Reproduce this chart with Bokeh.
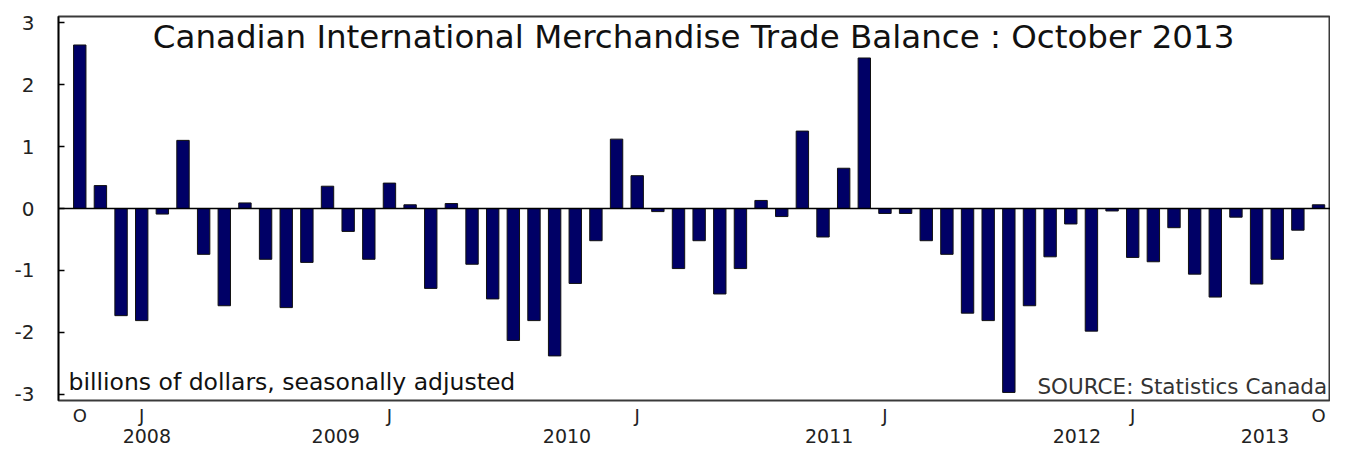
import pandas as pd
from bokeh.plotting import figure
from bokeh.models import FixedTicker, Label, Span, Range1d, LinearAxis
from bokeh.embed import file_html
from bokeh.resources import INLINE

# ---- data -------------------------------------------------------------
months = [str(m) for m in pd.period_range("2008-10", "2013-10", freq="M")]

trade_balance = [
    2.64, 0.37, -1.73, -1.81, -0.09, 1.10, -0.74, -1.57, 0.09, -0.82,
    -1.60, -0.87, 0.36, -0.37, -0.82, 0.41, 0.06, -1.29, 0.08, -0.90,
    -1.46, -2.13, -1.81, -2.38, -1.21, -0.52, 1.12, 0.53, -0.05, -0.97,
    -0.52, -1.38, -0.97, 0.13, -0.13, 1.25, -0.46, 0.65, 2.43, -0.08,
    -0.08, -0.52, -0.74, -1.69, -1.81, -2.97, -1.57, -0.78, -0.25, -1.98,
    -0.04, -0.79, -0.86, -0.31, -1.06, -1.43, -0.14, -1.22, -0.82, -0.35,
    0.06,
]

tick_months = ["2008-10", "2009-01", "2010-01", "2011-01", "2012-01", "2013-01", "2013-10"]
tick_letters = ["O", "J", "J", "J", "J", "J", "O"]

year_labels = ["2008", "2009", "2010", "2011", "2012", "2013"]

y_ticks = [-3, -2, -1, 0, 1, 2, 3]
y_tick_labels = ["-3", "-2", "-1", "0", "1", "2", "3"]

title_text = "Canadian International Merchandise Trade Balance : October 2013"
units_text = "billions of dollars, seasonally adjusted"
source_text = "SOURCE: Statistics Canada"

# ---- layout constants (positions in month-index units) ---------------
year_label_pos = [3.25, 12.4, 23.6, 36.3, 48.3, 57.4]

FONT = "DejaVu Sans"
idx = list(range(len(months)))

p = figure(width=1330, height=448, output_backend="svg", toolbar_location=None,
           x_range=Range1d(-1.03, 60.58), y_range=Range1d(-3.1, 3.1),
           min_border_left=58, min_border_right=0, min_border_top=16,
           min_border_bottom=48,
           background_fill_color="white", border_fill_color="white",
           outline_line_color="#3a3a3a", outline_line_width=2)
p.grid.visible = False

p.add_layout(Span(location=0, dimension="width", line_color="black", line_width=1.5))

p.vbar(x=idx, top=trade_balance, bottom=0, width=0.6,
       fill_color="#000066", line_color="#111111", line_width=1)

# y axis
ya = p.yaxis[0]
ya.ticker = FixedTicker(ticks=y_ticks)
ya.major_label_overrides = {t: s for t, s in zip(y_ticks, y_tick_labels)}
ya.major_tick_in = 6
ya.major_tick_out = 0
ya.minor_tick_line_color = None
ya.axis_line_color = "black"
ya.axis_line_width = 1.5
ya.major_tick_line_color = "black"
ya.major_tick_line_width = 1.5
ya.major_label_standoff = 24
ya.major_label_text_font = FONT
ya.major_label_text_font_size = "20px"
ya.major_label_text_color = "#222222"

# x axis (month letters)
tick_idx = [months.index(m) for m in tick_months]
xa = p.xaxis[0]
xa.ticker = FixedTicker(ticks=tick_idx)
xa.major_label_overrides = {i: t for i, t in zip(tick_idx, tick_letters)}
xa.major_tick_line_color = None
xa.minor_tick_line_color = None
xa.axis_line_color = None
xa.major_tick_out = 0
xa.major_tick_in = 0
xa.major_label_standoff = 4
xa.major_label_text_font = FONT
xa.major_label_text_font_size = "18px"
xa.major_label_text_color = "#222222"

# second axis below: year labels
xa2 = LinearAxis(ticker=FixedTicker(ticks=year_label_pos),
                 major_label_overrides={pos: yl for pos, yl in zip(year_label_pos, year_labels)})
xa2.major_tick_line_color = None
xa2.minor_tick_line_color = None
xa2.axis_line_color = None
xa2.major_tick_out = 0
xa2.major_tick_in = 0
xa2.major_label_standoff = 0
xa2.major_label_text_font = FONT
xa2.major_label_text_font_size = "19px"
xa2.major_label_text_color = "#222222"
p.add_layout(xa2, "below")

# title & notes
p.add_layout(Label(x=29.73, y=2.767, text=title_text, text_align="center",
                   text_baseline="middle", text_font=FONT,
                   text_font_size="32.5px", text_color="#111111"))
p.add_layout(Label(x=-0.546, y=-2.80, text=units_text, text_align="left",
                   text_baseline="middle", text_font=FONT,
                   text_font_size="23.5px", text_color="#111111"))
p.add_layout(Label(x=60.42, y=-2.88, text=source_text, text_align="right",
                   text_baseline="middle", text_font=FONT,
                   text_font_size="21.5px", text_color="#333333"))

open("out.html", "w").write(file_html(p, INLINE))
